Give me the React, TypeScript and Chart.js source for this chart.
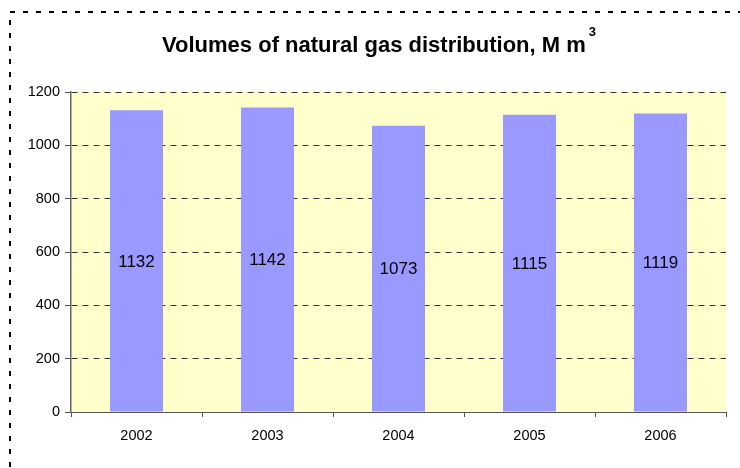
import React, { useEffect, useRef } from "react";
import { Chart, registerables } from "chart.js";

Chart.register(...registerables);

const categories = ["2002", "2003", "2004", "2005", "2006"];
const volumes = [1132, 1142, 1073, 1115, 1119];
const titleMain = "Volumes of natural gas distribution, M m";
const titleSup = "3";
const yMax = 1200;
const yStep = 200;

const FONT = "'Liberation Sans', Arial, Helvetica, sans-serif";

const decorPlugin = {
  id: "decor",
  beforeDraw(chart: any) {
    const { ctx, chartArea } = chart;
    ctx.save();
    // outer dashed frame
    ctx.strokeStyle = "#000";
    ctx.lineWidth = 2;
    ctx.setLineDash([5, 8]);
    ctx.beginPath();
    ctx.moveTo(10, 480);
    ctx.lineTo(10, 12);
    ctx.lineTo(760, 12);
    ctx.stroke();
    ctx.setLineDash([]);
    // plot background
    ctx.fillStyle = "#FFFFCC";
    ctx.fillRect(chartArea.left, chartArea.top, chartArea.right - chartArea.left, chartArea.bottom - chartArea.top);
    // title
    ctx.fillStyle = "#000";
    ctx.textBaseline = "alphabetic";
    ctx.textAlign = "left";
    ctx.font = `bold 22px ${FONT}`;
    const wMain = ctx.measureText(titleMain).width;
    ctx.font = `bold 13px ${FONT}`;
    const wSup = ctx.measureText(titleSup).width;
    const gap = 3;
    const total = wMain + gap + wSup;
    const x0 = 379 - total / 2;
    ctx.font = `bold 22px ${FONT}`;
    ctx.fillText(titleMain, x0, 52);
    ctx.font = `bold 13px ${FONT}`;
    ctx.fillText(titleSup, x0 + wMain + gap, 36);
    ctx.restore();
  },
  afterDatasetsDraw(chart: any) {
    const { ctx } = chart;
    const meta = chart.getDatasetMeta(0);
    ctx.save();
    ctx.fillStyle = "#000";
    ctx.font = `17px ${FONT}`;
    ctx.textAlign = "center";
    ctx.textBaseline = "middle";
    meta.data.forEach((el: any, i: number) => {
      const { x, y, base } = el.getProps(["x", "y", "base"], true);
      ctx.fillText(String(volumes[i]), x, (y + base) / 2 + 1);
    });
    ctx.restore();
  },
};

export default function App() {
  const ref = useRef<HTMLCanvasElement | null>(null);
  useEffect(() => {
    document.body.style.margin = "0";
    if (!ref.current) return;
    const chart = new Chart(ref.current, {
      type: "bar",
      data: {
        labels: categories,
        datasets: [
          {
            data: volumes,
            backgroundColor: "#9999FF",
            borderWidth: 0,
            barPercentage: 0.405,
            categoryPercentage: 1,
          },
        ],
      },
      plugins: [decorPlugin],
      options: {
        responsive: false,
        animation: false,
        events: [],
        layout: { padding: { left: 10, right: 14, top: 92, bottom: 0 } },
        plugins: {
          legend: { display: false },
          title: { display: false },
          tooltip: { enabled: false },
        },
        scales: {
          x: {
            offset: true,
            afterFit: (s: any) => {
              s.height = 56;
            },
            grid: {
              display: true,
              offset: true,
              drawOnChartArea: false,
              drawTicks: true,
              tickLength: 5,
              tickColor: "#555",
            },
            border: { display: true, color: "#555", width: 1 },
            ticks: {
              color: "#000",
              padding: 10,
              font: { family: FONT, size: 14.5 },
            },
          },
          y: {
            min: 0,
            max: yMax,
            afterFit: (s: any) => {
              s.width = 61;
            },
            grid: {
              color: "#333",
              lineWidth: 1,
              drawTicks: true,
              tickLength: 6,
              tickColor: "#555",
            },
            border: { display: true, color: "#666", width: 1.5, dash: [6, 5] },
            ticks: {
              stepSize: yStep,
              color: "#000",
              padding: 5,
              font: { family: FONT, size: 14.5 },
              callback: (v: any) => String(v),
            },
          },
        },
      },
    });
    return () => chart.destroy();
  }, []);
  return (
    <div style={{ width: 740, height: 468 }}>
      <canvas ref={ref} width={740} height={468} style={{ display: "block" }} />
    </div>
  );
}
